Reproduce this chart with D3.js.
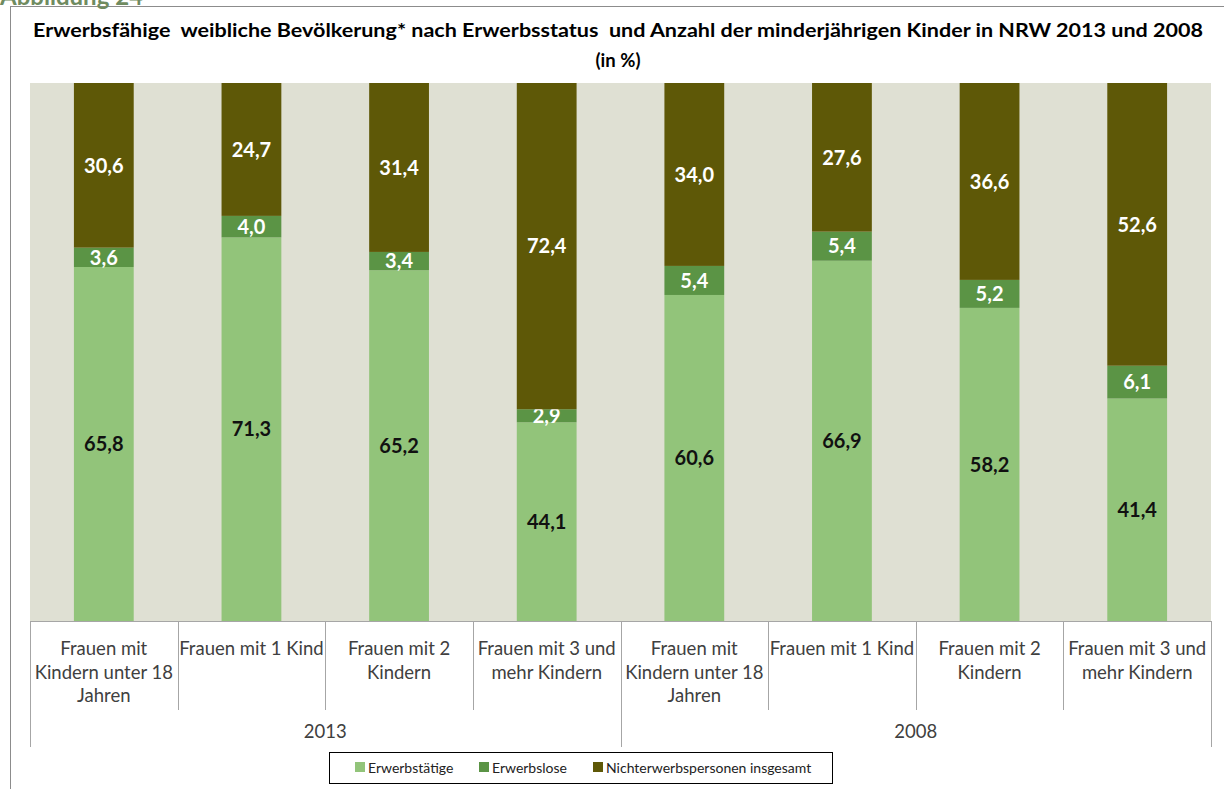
<!DOCTYPE html>
<html><head><meta charset="utf-8">
<script src="https://cdn.jsdelivr.net/npm/d3@7"></script>
<style>
html,body{margin:0;padding:0;background:#fff;}
svg{display:block;}
text{font-family:Lato,"Open Sans",sans-serif;}
</style></head>
<body>
<script>
const categoryLabels = [
  ["Frauen mit","Kindern unter 18","Jahren"],
  ["Frauen mit 1 Kind"],
  ["Frauen mit 2","Kindern"],
  ["Frauen mit 3 und","mehr Kindern"],
  ["Frauen mit","Kindern unter 18","Jahren"],
  ["Frauen mit 1 Kind"],
  ["Frauen mit 2","Kindern"],
  ["Frauen mit 3 und","mehr Kindern"]
];
const years = ["2013","2008"];
const seriesNames = ["Erwerbstätige","Erwerbslose","Nichterwerbspersonen insgesamt"];
const erwerbstaetige = [65.8,71.3,65.2,44.1,60.6,66.9,58.2,41.4];
const erwerbslose   = [3.6,4.0,3.4,2.9,5.4,5.4,5.2,6.1];
const nichterwerb   = [30.6,24.7,31.4,72.4,34.0,27.6,36.6,52.6];
const colors = ["#92c47a","#5b9445","#5e5807"];
const labelColors = ["#111","#fff","#fff"];

const W=1224,H=789;
const svg=d3.select("body").append("svg").attr("width",W).attr("height",H);

// frame
svg.append("rect").attr("x",10.5).attr("y",6.5).attr("width",1230).attr("height",800)
  .attr("fill","#fff").attr("stroke","#8c8c8c").attr("stroke-width",1);

// "Abbildung" heading, partly cut off at top as in the source
svg.append("text").attr("x",0).attr("y",5).attr("font-size",24).attr("font-weight","bold")
  .attr("fill","#6f8b60").text("Abbildung 24");

// title
const t = svg.append("text").attr("text-anchor","middle").attr("font-weight","bold").attr("font-size",18.5).attr("fill","#000");
t.append("tspan").attr("x",618).attr("y",37).style("white-space","pre")
  .attr("textLength",1170).attr("lengthAdjust","spacingAndGlyphs")
  .text("Erwerbsfähige  weibliche Bevölkerung* nach Erwerbsstatus  und Anzahl der minderjährigen Kinder in NRW 2013 und 2008");
t.append("tspan").attr("x",618).attr("y",67).text("(in %)");

const plot={l:30,r:1211,t:83,b:621};
svg.append("rect").attr("x",plot.l).attr("y",plot.t).attr("width",plot.r-plot.l).attr("height",plot.b-plot.t).attr("fill","#dfe0d3");

const idx=d3.range(categoryLabels.length);
const x=d3.scaleBand().domain(idx).range([plot.l,plot.r]).paddingInner(0.595).paddingOuter(0.2975);
const y=d3.scaleLinear().domain([0,1]).range([plot.b,plot.t]);

const rows=idx.map(i=>({i, s0:erwerbstaetige[i], s1:erwerbslose[i], s2:nichterwerb[i]}));
const stack=d3.stack().keys(["s0","s1","s2"]).offset(d3.stackOffsetExpand);
const series=stack(rows);

const fmt=v=>d3.format(".1f")(v).replace(".",",");

series.forEach((s,k)=>{
  const g=svg.append("g");
  g.selectAll("rect").data(s).join("rect")
    .attr("x",d=>x(d.data.i)).attr("width",x.bandwidth())
    .attr("y",d=>y(d[1])).attr("height",d=>y(d[0])-y(d[1]))
    .attr("fill",colors[k]);
  g.selectAll("text").data(s).join("text")
    .attr("x",d=>x(d.data.i)+x.bandwidth()/2)
    .attr("y",d=>(y(d[0])+y(d[1]))/2)
    .attr("dy","0.36em").attr("text-anchor","middle")
    .attr("font-size",20).attr("font-weight","bold").attr("fill",labelColors[k])
    .text(d=>fmt(d.data[s.key]));
});

// axis
const axisColor="#a6a6a6";
const ax=svg.append("g").attr("stroke",axisColor).attr("stroke-width",1).attr("shape-rendering","crispEdges");
ax.append("line").attr("x1",plot.l).attr("x2",plot.r).attr("y1",plot.b+0.5).attr("y2",plot.b+0.5);
const step=x.step();
d3.range(categoryLabels.length+1).forEach(j=>{
  const xx=Math.round(plot.l+j*step)+0.5;
  const long=(j%4===0);
  ax.append("line").attr("x1",xx).attr("x2",xx).attr("y1",plot.b).attr("y2",long?747:710);
});

// category labels
const cl=svg.append("g").attr("font-size",18.5).attr("fill","#404040").attr("text-anchor","middle");
idx.forEach(i=>{
  const cx=x(i)+x.bandwidth()/2;
  categoryLabels[i].forEach((ln,li)=>{
    cl.append("text").attr("x",cx).attr("y",655+li*23.5).text(ln);
  });
});
// year labels
years.forEach((yr,k)=>{
  svg.append("text").attr("x",plot.l+step*(2+4*k)).attr("y",738).attr("text-anchor","middle")
    .attr("font-size",18.5).attr("fill","#404040").text(yr);
});

// legend
const lg=svg.append("g");
lg.append("rect").attr("x",329.5).attr("y",752.5).attr("width",503).attr("height",31).attr("fill","#fff").attr("stroke","#000");
const legX=[355,479,593];
seriesNames.forEach((n,k)=>{
  lg.append("rect").attr("x",legX[k]).attr("y",762).attr("width",10).attr("height",10).attr("fill",colors[k]);
  lg.append("text").attr("x",legX[k]+13).attr("y",773).attr("font-size",14).attr("fill","#222").text(n);
});
</script>
</body></html>
